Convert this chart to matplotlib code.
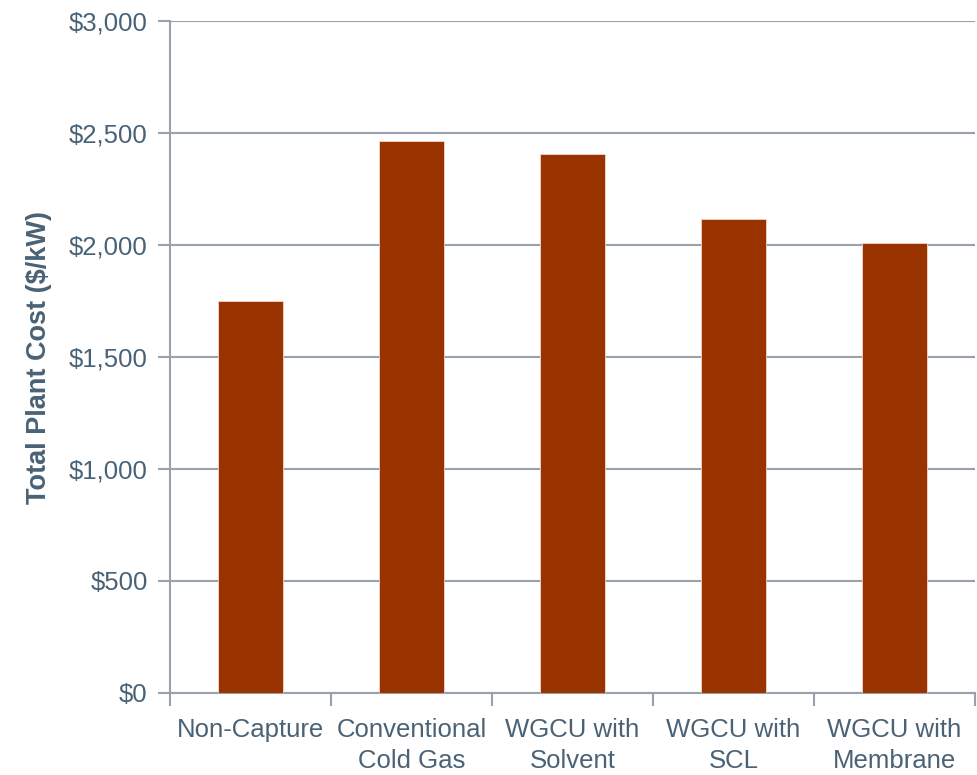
import matplotlib
matplotlib.use("Agg")
import matplotlib.pyplot as plt
from matplotlib.ticker import FuncFormatter, FixedLocator

categories = ["Non-Capture", "Conventional\nCold Gas", "WGCU with\nSolvent",
              "WGCU with\nSCL", "WGCU with\nMembrane"]
total_plant_cost = [1749, 2464, 2406, 2118, 2009]
y_ticks = [0, 500, 1000, 1500, 2000, 2500, 3000]

bar_color = "#993300"
grid_color = "#98A2AE"
text_color = "#4A6276"

plt.rcParams["font.family"] = ["Liberation Sans", "DejaVu Sans"]

fig = plt.figure(figsize=(9.77, 7.75), dpi=100)
ax = fig.add_axes([170 / 977, 82 / 775, 805 / 977, 672 / 775])

x = list(range(len(categories)))
ax.bar(x, total_plant_cost, width=0.4, color=bar_color, zorder=3,
       edgecolor="#F2D8CC", linewidth=0.6)

ax.set_xlim(-0.5, len(categories) - 0.5)
ax.set_ylim(0, 3000)
ax.yaxis.set_major_locator(FixedLocator(y_ticks))
ax.yaxis.set_major_formatter(FuncFormatter(lambda v, p: f"${v:,.0f}"))
ax.grid(axis="y", color=grid_color, linewidth=1.5, zorder=0)

ax.set_xticks(x)
ax.set_xticklabels(categories, linespacing=1.38)
ax.xaxis.set_minor_locator(FixedLocator([i - 0.5 for i in range(len(categories) + 1)]))
ax.tick_params(axis="x", which="major", length=0, pad=18, labelsize=18.5,
               labelcolor=text_color)
ax.tick_params(axis="x", which="minor", length=9, width=1.5, color=grid_color)
ax.tick_params(axis="y", length=9, width=1.5, color=grid_color, pad=7,
               labelsize=18.5, labelcolor=text_color)

for side in ("top", "right"):
    ax.spines[side].set_visible(False)
for side in ("left", "bottom"):
    ax.spines[side].set_color(grid_color)
    ax.spines[side].set_linewidth(1.5)

ax.set_ylabel("Total Plant Cost ($/kW)", fontsize=19.5, fontweight="bold",
              color=text_color, labelpad=12)

fig.savefig("out.png", dpi=100, facecolor="white")
